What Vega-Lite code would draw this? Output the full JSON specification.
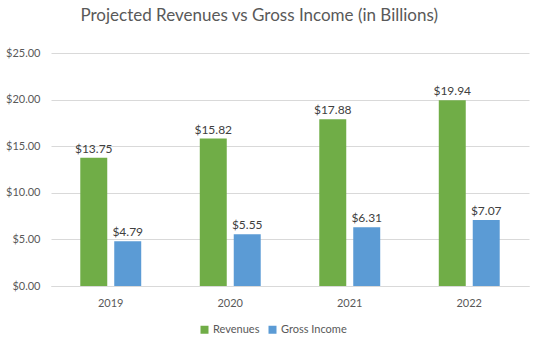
{
  "$schema": "https://vega.github.io/schema/vega-lite/v6.json",
  "autosize": "none",
  "width": 478,
  "height": 233,
  "padding": {"left": 51, "top": 53, "right": 15, "bottom": 60},
  "background": "white",
  "title": {
    "text": "Projected Revenues vs Gross Income (in Billions)",
    "font": "Lato",
    "fontSize": 17,
    "fontWeight": "normal",
    "color": "#595959",
    "anchor": "middle",
    "frame": "bounds",
    "dx": -8,
    "offset": 22
  },
  "config": {
    "view": {"stroke": null},
    "font": "Lato"
  },
  "data": {
    "values": [
      {"year": "2019", "series": "Revenues", "value": 13.75},
      {"year": "2019", "series": "Gross Income", "value": 4.79},
      {"year": "2020", "series": "Revenues", "value": 15.82},
      {"year": "2020", "series": "Gross Income", "value": 5.55},
      {"year": "2021", "series": "Revenues", "value": 17.88},
      {"year": "2021", "series": "Gross Income", "value": 6.31},
      {"year": "2022", "series": "Revenues", "value": 19.94},
      {"year": "2022", "series": "Gross Income", "value": 7.07}
    ]
  },
  "encoding": {
    "x": {
      "field": "year",
      "type": "nominal",
      "title": null,
      "scale": {"paddingInner": 0.49, "paddingOuter": 0.245},
      "axis": {
        "labelAngle": 0,
        "labelColor": "#595959",
        "labelFontSize": 11,
        "labelPadding": 11,
        "ticks": false,
        "domainColor": "#D9D9D9",
        "grid": false
      }
    },
    "xOffset": {
      "field": "series",
      "type": "nominal",
      "sort": ["Revenues", "Gross Income"],
      "scale": {"paddingInner": 0.206}
    },
    "y": {
      "field": "value",
      "type": "quantitative",
      "title": null,
      "scale": {"domain": [0, 25]},
      "axis": {
        "values": [0, 5, 10, 15, 20, 25],
        "format": "$.2f",
        "labelColor": "#595959",
        "labelFontSize": 11,
        "labelPadding": 11,
        "ticks": false,
        "domain": false,
        "gridColor": "#D9D9D9"
      }
    }
  },
  "layer": [
    {
      "mark": {"type": "bar"},
      "encoding": {
        "color": {
          "field": "series",
          "type": "nominal",
          "sort": ["Revenues", "Gross Income"],
          "scale": {"domain": ["Revenues", "Gross Income"], "range": ["#70AD47", "#5B9BD5"]},
          "legend": {
            "title": null,
            "orient": "none",
            "legendX": 148,
            "legendY": 271,
            "direction": "horizontal",
            "symbolType": "square",
            "symbolSize": 64,
            "symbolStrokeWidth": 0,
            "symbolOpacity": 1,
            "labelOffset": 3,
            "labelColor": "#595959",
            "labelFontSize": 11,
            "columnPadding": 7
          }
        }
      }
    },
    {
      "mark": {"type": "text", "dy": -9, "fontSize": 12, "color": "#404040"},
      "encoding": {
        "text": {"field": "value", "type": "quantitative", "format": "$.2f"}
      }
    }
  ]
}
